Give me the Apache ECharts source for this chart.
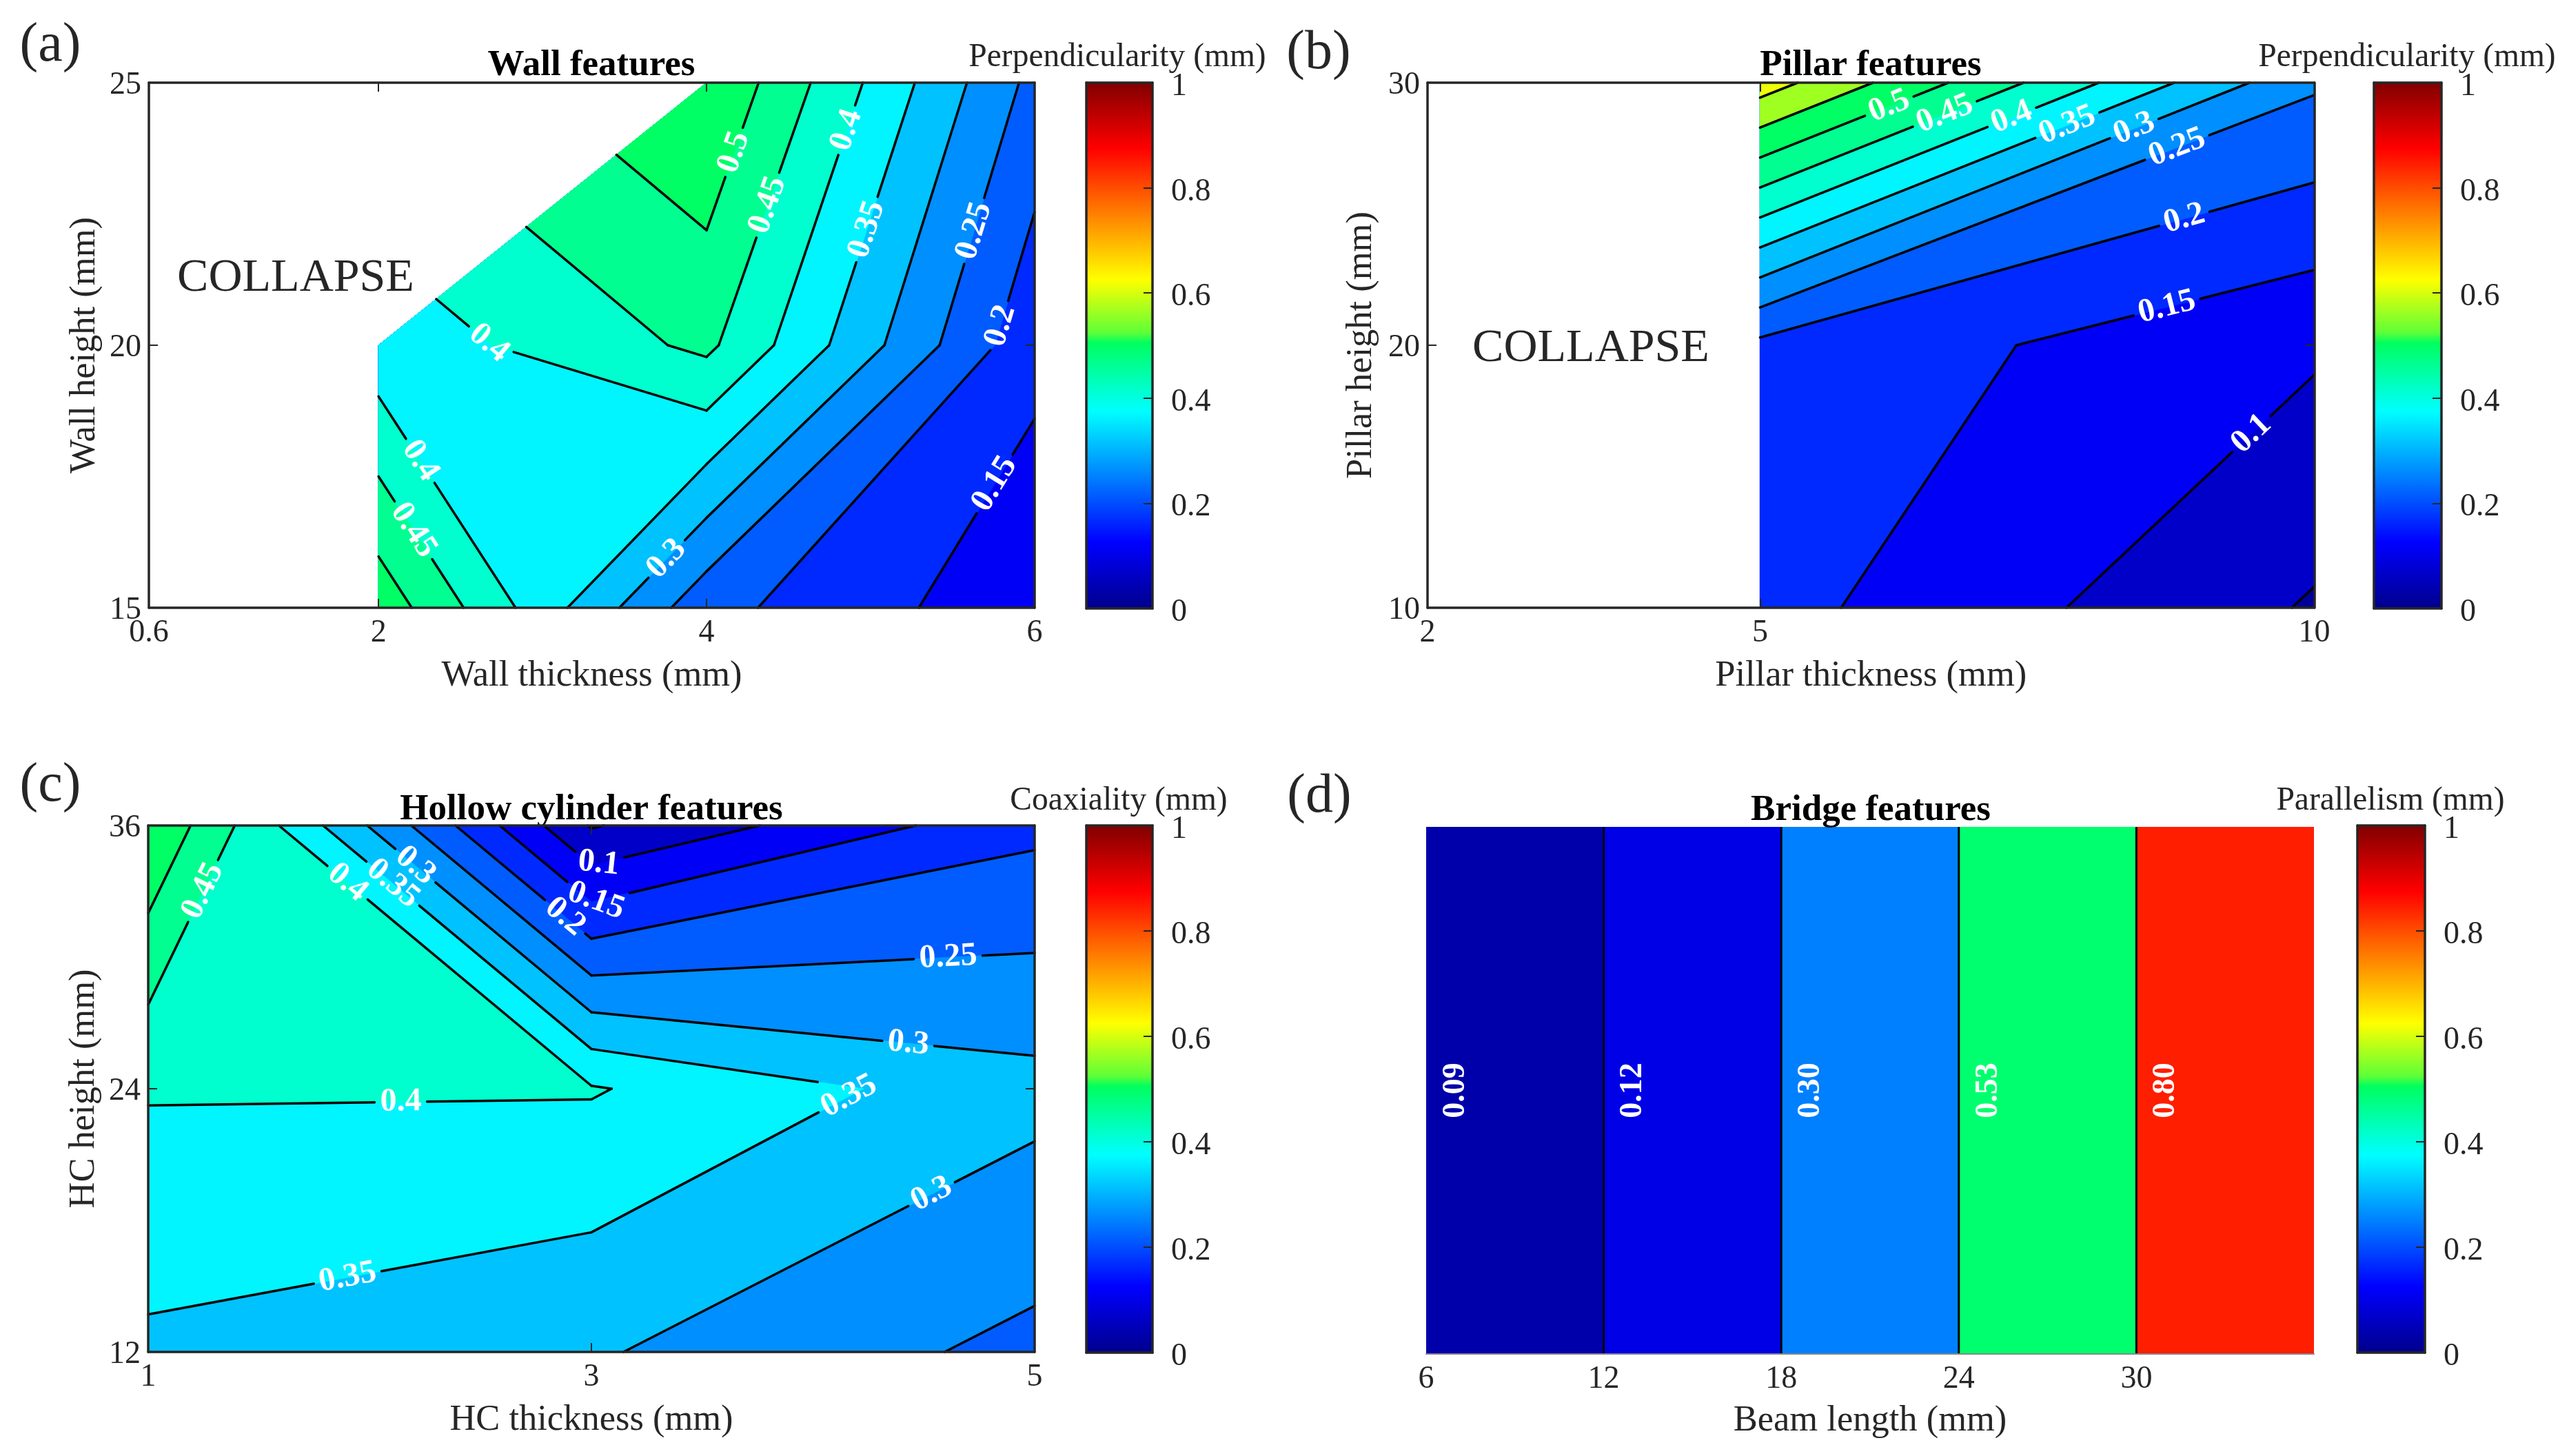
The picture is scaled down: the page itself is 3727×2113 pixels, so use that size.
<!DOCTYPE html>
<html><head><meta charset="utf-8">
<style>html,body{margin:0;padding:0;background:#fff}#c{width:3727px;height:2113px}</style>
<script src="https://cdn.jsdelivr.net/npm/echarts@6/dist/echarts.min.js"></script>
</head><body><div id="c"></div>
<script>
const FONT = 'Liberation Serif';
const contourLevels = [0,0.05,0.1,0.15,0.2,0.25,0.3,0.35,0.4,0.45,0.5,0.55,0.6,0.65,0.7,0.75,0.8,0.85,0.9,0.95];

// (a) Wall features
const wallX = [2,4,6];
const wallY = [15,20,25];
const wallZ = [[0.532,0.216,0.114],[0.368,0.461,0.164],[null,0.55,0.235]];
const wallLabels = [[0.5,'0.5',4.17,23.67],[0.45,'0.45',4.38,22.66],[0.4,'0.4',4.87,24.08],[0.35,'0.35',4.98,22.2],
  [0.25,'0.25',5.65,22.16],[0.2,'0.2',5.8,20.36],[0.15,'0.15',5.76,17.35],[0.3,'0.3',3.76,15.92],
  [0.4,'0.4',2.69,20.1],[0.4,'0.4',2.24,17.77],[0.45,'0.45',2.21,16.47]];
// (b) Pillar features
const pillarX = [5,10];
const pillarY = [10,20,30];
const pillarZ = [[0.168,0.045],[0.187,0.107],[0.625,0.257]];
const pillarLabels = [[0.5,'0.5',6.18,28.95],[0.45,'0.45',6.68,28.67],[0.4,'0.4',7.28,28.58],[0.35,'0.35',7.78,28.3],
  [0.3,'0.3',8.39,28.1],[0.25,'0.25',8.77,27.45],[0.2,'0.2',8.83,24.78],[0.15,'0.15',8.67,21.46],[0.1,'0.1',9.42,16.68]];
// (c) Hollow cylinder features
const hcX = [1,3,5];
const hcY = [12,24,36];
const hcZ = [[0.341,0.305,0.236],[0.404,0.404,0.316],[0.548,0.046,0.188]];
const hcLabels = [[0.45,'0.45',1.25,33.0],[0.4,'0.4',1.89,33.28],[0.35,'0.35',2.1,33.3],[0.3,'0.3',2.2,34.1],
  [0.2,'0.2',2.87,31.7],[0.15,'0.15',3.02,32.6,-20],[0.1,'0.1',3.03,34.4,-6],[0.4,'0.4',2.14,23.4],
  [0.25,'0.25',4.61,30.0],[0.3,'0.3',4.43,26.1],[0.35,'0.35',4.16,23.7],[0.35,'0.35',1.9,15.4],[0.3,'0.3',4.54,19.1]];
// (d) Bridge features
const beamStart = [6,12,18,24,30];
const beamEnd = 36;
const beamValues = [0.09,0.12,0.30,0.53,0.80];
const beamText = ['0.09','0.12','0.30','0.53','0.80'];
const beamColors = ['#0000aa','#0000e6','#0080ff','#00ff6e','#ff1e00'];
const beamTicks = [6,12,18,24,30];

const colorbarTicks = [0,0.2,0.4,0.6,0.8,1];
const colormap = [[0,0,0,140],[0.125,0,0,255],[0.25,0,128,255],[0.375,0,255,255],[0.505,0,255,95],[0.525,95,255,55],[0.625,255,255,0],[0.75,255,128,0],[0.875,255,0,0],[1,128,0,0]];

function cmap(v){
  for(let i=1;i<colormap.length;i++){
    const a=colormap[i-1],b=colormap[i];
    if(v<=b[0]){const t=(v-a[0])/(b[0]-a[0]);
      return 'rgb('+[1,2,3].map(k=>Math.round(a[k]+t*(b[k]-a[k]))).join(',')+')';}
  }
  return 'rgb(128,0,0)';
}
function bandColor(L){ return L===0.5 ? 'rgb(0,255,100)' : cmap(L+0.015); }
function cellsOf(p){
  const cells=[];
  for(let j=0;j<p.y.length-1;j++)for(let i=0;i<p.x.length-1;i++){
    const c=[[i,j],[i+1,j],[i+1,j+1],[i,j+1]].map(([a,b])=>({x:p.x[a],y:p.y[b],z:p.z[b][a]})).filter(q=>q.z!==null);
    if(c.length>=3)cells.push(c);
  }
  return cells;
}
function cross(a,b,L){const t=(L-a.z)/(b.z-a.z);return [a.x+t*(b.x-a.x),a.y+t*(b.y-a.y)];}
function isSaddle(c,L){return c.length===4&&(c[0].z>=L)===(c[2].z>=L)&&(c[1].z>=L)===(c[3].z>=L)&&(c[0].z>=L)!==(c[1].z>=L);}
function centre(c){return c.reduce((s,q)=>s+q.z,0)/c.length;}
function regionPolys(c,L){
  const n=c.length;
  if(isSaddle(c,L)&&centre(c)<L){
    const out=[];
    for(let i=0;i<4;i++)if(c[i].z>=L){
      out.push([[c[i].x,c[i].y],cross(c[i],c[(i+1)%4],L),cross(c[i],c[(i+3)%4],L)]);
    }
    return out;
  }
  const pts=[];
  for(let i=0;i<n;i++){
    const a=c[i],b=c[(i+1)%n];
    if(a.z>=L)pts.push([a.x,a.y]);
    if((a.z>=L)!==(b.z>=L))pts.push(cross(a,b,L));
  }
  return pts.length>=3?[pts]:[];
}
function levelSegs(c,L){
  const n=c.length;
  if(isSaddle(c,L)){
    const high=c[0].z>=L?0:1, segs=[];
    const centreHigh=centre(c)>=L;
    for(let k=0;k<2;k++){
      const i=(centreHigh?high+1:high)+2*k;
      segs.push([cross(c[i%4],c[(i+1)%4],L),cross(c[i%4],c[(i+3)%4],L)]);
    }
    return segs;
  }
  const pts=[];
  for(let i=0;i<n;i++){
    const a=c[i],b=c[(i+1)%n];
    if((a.z>=L)!==(b.z>=L))pts.push(cross(a,b,L));
  }
  return pts.length===2?[pts]:[];
}
function allSegs(p,L,api){
  const out=[];
  cellsOf(p).forEach(c=>levelSegs(c,L).forEach(s=>out.push([api.coord(s[0]),api.coord(s[1])])));
  return out;
}
function place(p,lab,api){
  const q=api.coord([lab[2],lab[3]]);
  let best=null;
  allSegs(p,lab[0],api).forEach(s=>{
    const dx=s[1][0]-s[0][0],dy=s[1][1]-s[0][1];
    const len2=dx*dx+dy*dy; if(!len2)return;
    const t=Math.max(0,Math.min(1,((q[0]-s[0][0])*dx+(q[1]-s[0][1])*dy)/len2));
    const px=s[0][0]+t*dx,py=s[0][1]+t*dy,d=Math.hypot(q[0]-px,q[1]-py);
    if(!best||d<best.d)best={d,px,py,dx,dy};
  });
  if(!best)return {px:q[0],py:q[1],theta:0};
  let th=Math.atan2(best.dy,best.dx);
  if(th>Math.PI/2)th-=Math.PI; if(th<=-Math.PI/2)th+=Math.PI;
  return {px:best.px,py:best.py,theta:lab[4]!==undefined?-lab[4]*Math.PI/180:th};
}
function labelRadius(t){return (t.length===4?42:30)+8;}
function cut(seg,circles){
  let ranges=[[0,1]];
  const [a,b]=seg,dx=b[0]-a[0],dy=b[1]-a[1],A=dx*dx+dy*dy;
  if(!A)return [];
  circles.forEach(cc=>{
    const fx=a[0]-cc.x,fy=a[1]-cc.y,B=2*(fx*dx+fy*dy),C=fx*fx+fy*fy-cc.r*cc.r,D=B*B-4*A*C;
    if(D<=0)return;
    const s=Math.sqrt(D),t0=(-B-s)/(2*A),t1=(-B+s)/(2*A),next=[];
    ranges.forEach(r=>{
      if(t1<=r[0]||t0>=r[1]){next.push(r);return;}
      if(t0>r[0])next.push([r[0],t0]);
      if(t1<r[1])next.push([t1,r[1]]);
    });
    ranges=next;
  });
  return ranges.map(r=>[[a[0]+r[0]*dx,a[1]+r[0]*dy],[a[0]+r[1]*dx,a[1]+r[1]*dy]]);
}
function contourSeries(p,xi,yi){
  const base={type:'custom',coordinateSystem:'cartesian2d',xAxisIndex:xi,yAxisIndex:yi,silent:true,animation:false,encode:{x:0,y:1},clip:false};
  const lv=contourLevels.map(l=>[p.x[0],p.y[0],l]);
  return [
    Object.assign({},base,{z:2,data:lv,renderItem(params,api){
      const L=contourLevels[params.dataIndex],col=bandColor(L),children=[];
      cellsOf(p).forEach(c=>regionPolys(c,L).forEach(poly=>{
        children.push({type:'polygon',shape:{points:poly.map(q=>api.coord(q))},style:{fill:col,stroke:col,lineWidth:1}});
      }));
      return {type:'group',children};
    }}),
    Object.assign({},base,{z:3,data:lv,renderItem(params,api){
      const L=contourLevels[params.dataIndex],children=[];
      const circles=p.labels.filter(l=>l[0]===L).map(l=>{const o=place(p,l,api);return {x:o.px,y:o.py,r:labelRadius(l[1])};});
      allSegs(p,L,api).forEach(s=>cut(s,circles).forEach(g=>{
        children.push({type:'line',shape:{x1:g[0][0],y1:g[0][1],x2:g[1][0],y2:g[1][1]},style:{stroke:'#000',lineWidth:3.5,lineCap:'round'}});
      }));
      return {type:'group',children};
    }}),
    Object.assign({},base,{z:4,data:p.labels.map(l=>[l[2],l[3]]),renderItem(params,api){
      const l=p.labels[params.dataIndex],o=place(p,l,api);
      return {type:'text',x:o.px,y:o.py,rotation:-o.theta,style:{text:l[1],fill:'#fff',font:'bold 48px "'+FONT+'"',textAlign:'center',textVerticalAlign:'middle',verticalAlign:'middle'}};
    }})
  ];
}
const INK='#262626';
const grids=[],xAxes=[],yAxes=[],series=[];
function frameAxes(g,xCfg,yCfg,hideFrame){
  const gi=grids.length;grids.push(g);
  const line={show:!hideFrame,onZero:false,lineStyle:{color:INK,width:3.5}};
  const tick=(vals)=>({show:vals.length>0,inside:true,length:13,customValues:vals,lineStyle:{color:INK,width:2}});
  const xi=xAxes.length,yi=yAxes.length;
  const yPad=yCfg.labelRight?12:7;
  xAxes.push({gridIndex:gi,type:'value',position:'bottom',min:xCfg.min,max:xCfg.max,z:10,splitLine:{show:false},
    axisLine:hideFrame?{show:true,onZero:false,lineStyle:{color:'#8a8a8a',width:2}}:line,axisTick:tick(hideFrame?[]:xCfg.ticks),
    axisLabel:{show:xCfg.ticks.length>0,customValues:xCfg.ticks,margin:14,color:INK,fontFamily:FONT,fontSize:46,formatter:v=>String(v)},
    name:xCfg.name||'',nameLocation:'middle',nameGap:xCfg.gap||73,nameMoveOverlap:false,nameTextStyle:{color:INK,fontFamily:FONT,fontSize:52.5}});
  xAxes.push({gridIndex:gi,type:'value',position:'top',min:xCfg.min,max:xCfg.max,z:10,splitLine:{show:false},
    axisLine:line,axisTick:tick(hideFrame?[]:xCfg.ticks),axisLabel:{show:false}});
  yAxes.push({gridIndex:gi,type:'value',position:yCfg.labelRight?'right':'left',min:yCfg.min,max:yCfg.max,z:10,splitLine:{show:false},
    axisLine:line,axisTick:tick(hideFrame?[]:yCfg.ticks),
    axisLabel:{show:yCfg.ticks.length>0&&!hideFrame,customValues:yCfg.ticks,margin:yCfg.labelRight?27:11,formatter:v=>'{t|'+v+'}',
      rich:{t:{color:INK,fontFamily:FONT,fontSize:46,padding:[yPad,0,0,0]}}},
    name:yCfg.name||'',nameLocation:'middle',nameGap:yCfg.gap||66,nameMoveOverlap:false,nameTextStyle:{color:INK,fontFamily:FONT,fontSize:52.5}});
  yAxes.push({gridIndex:gi,type:'value',position:yCfg.labelRight?'left':'right',min:yCfg.min,max:yCfg.max,z:10,splitLine:{show:false},
    axisLine:line,axisTick:tick(hideFrame||yCfg.labelRight?[]:yCfg.ticks),axisLabel:{show:false}});
  return [xi,yi];
}
function colorbar(left,right,top,bottom){
  const [xi,yi]=frameAxes({left,top,width:right-left,height:bottom-top},{min:0,max:1,ticks:[]},{min:0,max:1,ticks:colorbarTicks,labelRight:true});
  const grad=colormap.map(s=>({offset:s[0],color:`rgb(${s[1]},${s[2]},${s[3]})`}));
  series.push({type:'custom',coordinateSystem:'cartesian2d',xAxisIndex:xi,yAxisIndex:yi,silent:true,animation:false,z:2,data:[[0,0,1,1]],encode:{x:0,y:1},
    renderItem(params,api){
      const a=api.coord([0,0]),b=api.coord([1,1]);
      return {type:'rect',shape:{x:a[0],y:b[1],width:b[0]-a[0],height:a[1]-b[1]},style:{fill:new echarts.graphic.LinearGradient(0,1,0,0,grad)}};
    }});
}
function panel(g,p,xCfg,yCfg){
  const [xi,yi]=frameAxes(g,xCfg,yCfg);
  contourSeries(p,xi,yi).forEach(s=>series.push(s));
}
panel({left:216,top:120,width:1285,height:762},{x:wallX,y:wallY,z:wallZ,labels:wallLabels},
  {min:0.6,max:6,ticks:[0.6,2,4,6],name:'Wall thickness (mm)'},{min:15,max:25,ticks:[15,20,25],name:'Wall height (mm)'});
colorbar(1576,1672,120,883);
panel({left:2071,top:120,width:1286.5,height:762},{x:pillarX,y:pillarY,z:pillarZ,labels:pillarLabels},
  {min:2,max:10,ticks:[2,5,10],name:'Pillar thickness (mm)'},{min:10,max:30,ticks:[10,20,30],name:'Pillar height (mm)',gap:69});
colorbar(3444,3542,120,883);
panel({left:215,top:1198,width:1286,height:764},{x:hcX,y:hcY,z:hcZ,labels:hcLabels},
  {min:1,max:5,ticks:[1,3,5],name:'HC thickness (mm)'},{min:12,max:36,ticks:[12,24,36],name:'HC height (mm)'});
colorbar(1576,1672,1198,1963);
// (d)
(function(){
  const [xi,yi]=frameAxes({left:2069,top:1200,width:1288,height:765},{min:6,max:36,ticks:beamTicks,name:'Beam length (mm)',gap:71},{min:0,max:1,ticks:[]},true);
  const edges=beamStart.concat([beamEnd]);
  series.push({type:'custom',coordinateSystem:'cartesian2d',xAxisIndex:xi,yAxisIndex:yi,silent:true,animation:false,z:2,
    data:beamValues.map((v,i)=>[beamStart[i],0,edges[i+1],1,v]),encode:{x:[0,2],y:[1,3]},
    renderItem(params,api){
      const i=params.dataIndex,a=api.coord([api.value(0),0]),b=api.coord([api.value(2),1]),mid=api.coord([api.value(0)+1,0.5]);
      const kids=[{type:'rect',shape:{x:a[0],y:b[1],width:b[0]-a[0],height:a[1]-b[1]},style:{fill:beamColors[i]}}];
      if(i>0)kids.push({type:'line',shape:{x1:a[0],y1:a[1],x2:a[0],y2:b[1]},style:{stroke:'#000',lineWidth:3}});
      kids.push({type:'text',x:mid[0],y:mid[1],rotation:Math.PI/2,style:{text:beamText[i],fill:'#fff',font:'bold 46px "'+FONT+'"',textAlign:'center',verticalAlign:'middle',textVerticalAlign:'middle'}});
      return {type:'group',children:kids};
    }});
})();
colorbar(3420,3518,1198,1963);

function txt(text,cx,cy,size,weight){
  return {text,left:cx,top:cy,textAlign:'center',textVerticalAlign:'middle',padding:0,
    textStyle:{color:weight==='bold'?'#000':INK,fontFamily:FONT,fontSize:size,fontWeight:weight||'normal'}};
}
const titles=[
  txt('(a)',73,67,80),txt('(b)',1913,78,80),txt('(c)',73,1141,80),txt('(d)',1914,1157,80),
  txt('Wall features',858,95,53,'bold'),txt('Pillar features',2714,95,53,'bold'),
  txt('Hollow cylinder features',858,1175,53,'bold'),txt('Bridge features',2714,1176,53,'bold'),
  txt('Perpendicularity (mm)',1621,84,47.5),txt('Perpendicularity (mm)',3492,84,47.5),
  txt('Coaxiality (mm)',1623,1163,47.5),txt('Parallelism (mm)',3468,1163,47.5),
  txt('COLLAPSE',429,404,68),txt('COLLAPSE',2308,506,68)
];
const chart=echarts.init(document.getElementById('c'),null,{renderer:'canvas',width:3727,height:2113});
chart.setOption({animation:false,backgroundColor:'#fff',title:titles,grid:grids,xAxis:xAxes,yAxis:yAxes,series});
</script></body></html>
